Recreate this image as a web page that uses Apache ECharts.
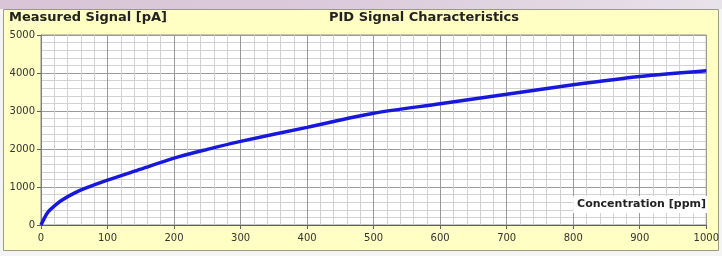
<!DOCTYPE html>
<html>
<head>
<meta charset="utf-8">
<script src="https://cdn.jsdelivr.net/npm/echarts@6/dist/echarts.min.js"></script>
<style>
html,body{margin:0;padding:0;background:#f4f4f4;}
#main{width:722px;height:256px;}
</style>
</head>
<body>
<div id="main"></div>
<script>
// concentration [ppm] / signal [pA]
var conc = [0, 10, 20, 30, 50, 70, 100, 150, 200, 250, 300, 400, 500, 600, 700, 800, 900, 1000];
var signal = [0, 330, 500, 640, 840, 990, 1180, 1470, 1760, 1990, 2200, 2570, 2940, 3190, 3440, 3690, 3910, 4060];
var xTicks = [0, 100, 200, 300, 400, 500, 600, 700, 800, 900, 1000];
var yTicks = [0, 1000, 2000, 3000, 4000, 5000];

var points = [];
for (var i = 0; i < conc.length; i++) {
	points.push([conc[i], signal[i]]);
}

var myChart = echarts.init(document.getElementById('main'));
var option = {
	animation: false,
	backgroundColor: '#f4f4f4',
	graphic: [
		//上方的粉色条
		{type: 'rect', left: 0, top: 0, shape: {width: 722, height: 9},
			style: {fill: new echarts.graphic.LinearGradient(0, 0, 1, 0, [
				{offset: 0, color: '#d8c4d6'}, {offset: 0.5, color: '#dccbdc'}, {offset: 1, color: '#e8e2ea'}])}, z: -10},
		//黄色外框
		{type: 'rect', left: 3, top: 9, shape: {width: 715, height: 241},
			style: {fill: '#ffffc4', stroke: '#9a9a88', lineWidth: 1}, z: -9},
		{type: 'text', left: 9, top: 11, z: 10,
			style: {text: 'Measured Signal [pA]', font: 'bold 13px "DejaVu Sans"', fill: '#222'}},
		{type: 'text', x: 424, y: 11, z: 10,
			style: {text: 'PID Signal Characteristics', font: 'bold 13px "DejaVu Sans"', fill: '#222', textAlign: 'center'}},
		{type: 'text', right: 14, top: 196, z: 10,
			style: {text: 'Concentration [ppm]', font: 'bold 11px "DejaVu Sans"', fill: '#222',
				backgroundColor: '#ffffff', padding: [3, 2, 3, 4]}}
	],
	grid: {left: 41, top: 35, width: 666, height: 190, show: true,
		backgroundColor: '#ffffff', borderColor: '#8a8a8a', borderWidth: 1},
	xAxis: {
		type: 'value', min: 0, max: 1000, interval: 100,
		axisLine: {show: true, lineStyle: {color: '#606060'}},
		axisTick: {show: true, length: 4, lineStyle: {color: '#606060'}},
		axisLabel: {color: '#333', fontFamily: 'DejaVu Sans', fontSize: 10, margin: 8,
			formatter: function (v) { return xTicks.indexOf(v) >= 0 ? '' + v : ''; }},
		splitLine: {show: true, lineStyle: {color: '#9a9a9a', width: 1}},
		minorTick: {show: false, splitNumber: 5},
		minorSplitLine: {show: true, lineStyle: {color: '#d2d2d2', width: 1}}
	},
	yAxis: {
		type: 'value', min: 0, max: 5000, interval: 1000,
		axisLine: {show: true, lineStyle: {color: '#808080'}},
		axisTick: {show: true, length: 4, lineStyle: {color: '#606060'}},
		axisLabel: {color: '#333', fontFamily: 'DejaVu Sans', fontSize: 10, margin: 6,
			formatter: function (v) { return yTicks.indexOf(v) >= 0 ? '' + v : ''; }},
		splitLine: {show: true, lineStyle: {color: '#9a9a9a', width: 1}},
		minorTick: {show: false, splitNumber: 5},
		minorSplitLine: {show: true, lineStyle: {color: '#d2d2d2', width: 1}}
	},
	series: [{
		type: 'line',
		data: points,
		smooth: 0.3,
		symbol: 'none',
		lineStyle: {color: '#1818dc', width: 3.5},
		z: 5
	}]
};
myChart.setOption(option);
</script>
</body>
</html>
